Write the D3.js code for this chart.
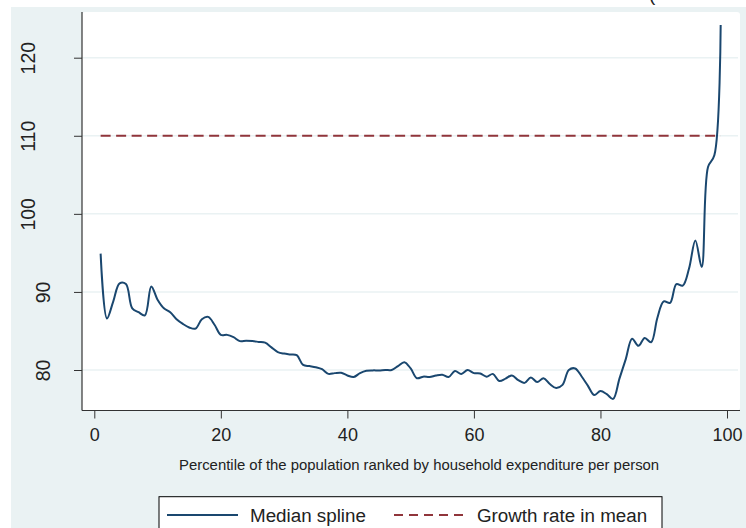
<!DOCTYPE html>
<html>
<head>
<meta charset="utf-8">
<script src="https://cdn.jsdelivr.net/npm/d3@7"></script>
<style>
  html, body { margin: 0; padding: 0; background: #ffffff; }
  svg { display: block; font-family: "Liberation Sans", Arial, sans-serif; }
</style>
</head>
<body>
<svg id="chart" width="746" height="528"></svg>
<script>
// Percentiles of the population (1..99)
const percentiles = d3.range(1, 100);

// Median spline of growth by percentile
const medianSpline = [
  94.9, 86.6, 88.8, 91.1, 91.0, 87.9, 87.4, 87.0, 90.7, 89.0,
  87.9, 87.4, 86.5, 85.9, 85.45, 85.3, 86.5, 86.8, 85.8, 84.5,
  84.5, 84.2, 83.7, 83.75, 83.7, 83.6, 83.5, 82.9, 82.3, 82.1,
  82.0, 81.9, 80.65, 80.5, 80.35, 80.1, 79.5, 79.6, 79.65, 79.3,
  79.1, 79.6, 79.9, 79.95, 79.95, 80.0, 80.0, 80.5, 81.0, 80.2,
  78.95, 79.15, 79.1, 79.3, 79.4, 79.1, 79.87, 79.5, 80.0, 79.6,
  79.55, 79.15, 79.5, 78.6, 78.9, 79.3, 78.7, 78.35, 79.05, 78.45,
  78.95, 78.2, 77.7, 78.1, 80.0, 80.2, 79.2, 78.0, 76.8, 77.3,
  76.9, 76.3, 78.9, 81.4, 84.0, 83.1, 84.1, 83.55, 86.7, 88.8,
  88.6, 91.0, 90.8, 93.0, 96.6, 93.2, 106.0, 107.5, 124.2
];

// Growth rate in mean (flat reference)
const meanGrowth = 110;
const meanRange = [1, 99];

const xTicks = [0, 20, 40, 60, 80, 100];
const yTicks = [80, 90, 100, 110, 120];

const xTitle = "Percentile of the population ranked by household expenditure per person";
const legendLabels = ["Median spline", "Growth rate in mean"];

const navy = "#1a476f";
const maroon = "#90353b";
const bgBlue = "#eaf2f3";

const svg = d3.select("#chart");

// Outer graph region
svg.append("rect").attr("x", 11).attr("y", 7).attr("width", 735).attr("height", 521)
  .attr("fill", bgBlue);

// Title glyph running off the top edge
svg.append("text").attr("x", 649).attr("y", 1)
  .attr("font-size", 19).attr("fill", "#222").text("(");

// Plot region
const plot = { left: 82, right: 740, top: 12, bottom: 410.5 };
svg.append("rect")
  .attr("x", plot.left).attr("y", plot.top)
  .attr("width", plot.right - plot.left).attr("height", plot.bottom - plot.top)
  .attr("rx", 3).attr("fill", "#ffffff");

const x = d3.scaleLinear().domain([0, 100]).range([94.3, 727]);
const y = d3.scaleLinear().domain([80, 120]).range([370, 57.7]);

// Gridlines
svg.append("g").selectAll("line").data(yTicks).join("line")
  .attr("x1", plot.left).attr("x2", plot.right - 2)
  .attr("y1", d => y(d)).attr("y2", d => y(d))
  .attr("stroke", bgBlue).attr("stroke-width", 1.5);

// Y axis
const yAxis = svg.append("g").attr("transform", `translate(${plot.left},0)`)
  .call(d3.axisLeft(y).tickValues(yTicks).tickSize(8).tickFormat(d3.format("d")));
yAxis.select(".domain").remove();
yAxis.selectAll(".tick line").attr("stroke", "#333").attr("stroke-width", 1);
yAxis.selectAll(".tick text")
  .attr("font-size", 19.5).attr("fill", "#222")
  .attr("text-anchor", "middle").attr("dy", null)
  .attr("x", null)
  .attr("transform", function () {
    const len = this.textContent.length;
    const bx = 50 - 15 * (len - 2) - plot.left;
    return `translate(${bx},0) rotate(-90)`;
  });
svg.append("line").attr("x1", plot.left).attr("x2", plot.left)
  .attr("y1", plot.top).attr("y2", plot.bottom)
  .attr("stroke", "#333").attr("stroke-width", 1.2);

// X axis
const xAxis = svg.append("g").attr("transform", `translate(0,${plot.bottom})`)
  .call(d3.axisBottom(x).tickValues(xTicks).tickSize(8).tickFormat(d3.format("d")));
xAxis.select(".domain").remove();
xAxis.selectAll(".tick line").attr("stroke", "#333").attr("stroke-width", 1);
xAxis.selectAll(".tick text")
  .attr("font-size", 18).attr("fill", "#222")
  .attr("y", 30.3).attr("dy", null);
svg.append("line").attr("x1", plot.left).attr("x2", plot.right)
  .attr("y1", plot.bottom).attr("y2", plot.bottom)
  .attr("stroke", "#333").attr("stroke-width", 1.2);

// X axis title
svg.append("text").attr("x", 179).attr("y", 470)
  .attr("font-size", 14.9).attr("fill", "#222").text(xTitle);

// Growth rate in mean
svg.append("line")
  .attr("x1", x(meanRange[0])).attr("x2", x(meanRange[1]))
  .attr("y1", y(meanGrowth)).attr("y2", y(meanGrowth))
  .attr("stroke", maroon).attr("stroke-width", 2)
  .attr("stroke-dasharray", "10,5.5");

// Median spline
const line = d3.line()
  .x((d, i) => x(percentiles[i]))
  .y(d => y(d))
  .curve(d3.curveCatmullRom.alpha(0.5));
svg.append("path").datum(medianSpline)
  .attr("d", line).attr("fill", "none")
  .attr("stroke", navy).attr("stroke-width", 2)
  .attr("stroke-linejoin", "round");

// Legend
const lg = svg.append("g");
lg.append("rect").attr("x", 159).attr("y", 496.7).attr("width", 503).attr("height", 60)
  .attr("fill", "#ffffff").attr("stroke", "#000").attr("stroke-width", 1);
lg.append("line").attr("x1", 167).attr("x2", 238).attr("y1", 515).attr("y2", 515)
  .attr("stroke", navy).attr("stroke-width", 2);
lg.append("text").attr("x", 250).attr("y", 522).attr("font-size", 18.8)
  .attr("fill", "#222").text(legendLabels[0]);
lg.append("line").attr("x1", 394).attr("x2", 465).attr("y1", 515).attr("y2", 515)
  .attr("stroke", maroon).attr("stroke-width", 2).attr("stroke-dasharray", "9,6");
lg.append("text").attr("x", 477).attr("y", 522).attr("font-size", 18.8)
  .attr("fill", "#222").text(legendLabels[1]);
</script>
</body>
</html>
